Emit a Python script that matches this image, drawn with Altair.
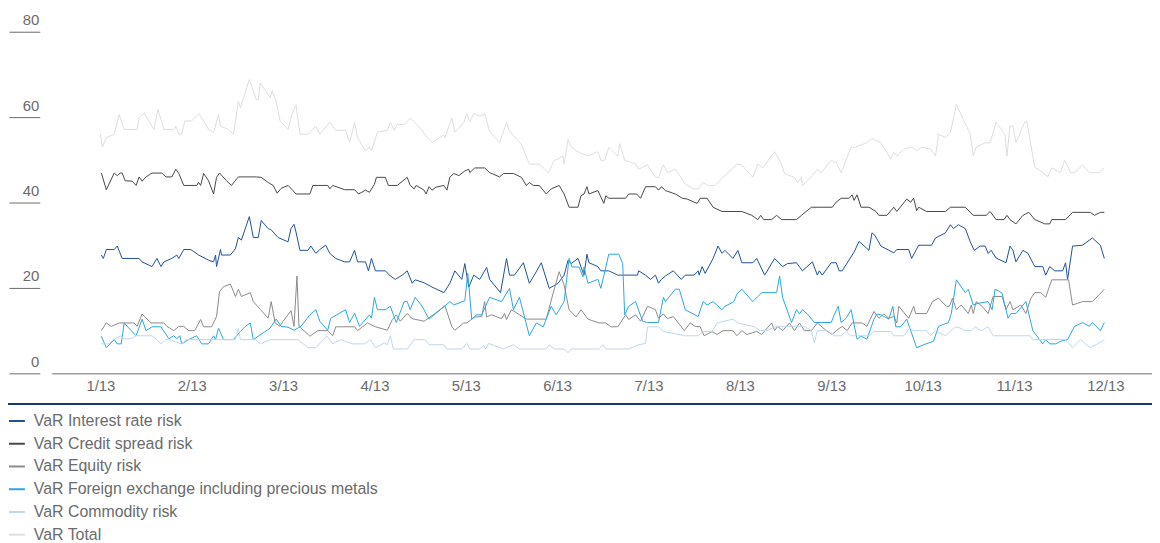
import altair as alt
import pandas as pd

# x = trading day of 2013 (0 = first day of January, 253 = end of December); y = VaR in EUR m
series_names = [
    "VaR Interest rate risk",
    "VaR Credit spread risk",
    "VaR Equity risk",
    "VaR Foreign exchange including precious metals",
    "VaR Commodity risk",
    "VaR Total",
]
series_colors = ["#1f5199", "#484848", "#8a8a8a", "#2ba6de", "#bdd7ee", "#dedede"]
month_labels = ["1/13", "2/13", "3/13", "4/13", "5/13", "6/13", "7/13", "8/13", "9/13", "10/13", "11/13", "12/13"]
y_ticks = [0, 20, 40, 60, 80]

total = [(0,56),(0.5,53),(1.5,55.2),(3.5,56),(4.75,60.6),(6,57.1),(9.25,57.1),(9.75,59.8),(11,61),(13.5,57.1),(14.5,61.8),(16,57.1),(18.5,57.1),(19,57.9),(19.75,56),(20.5,56),(21.25,59.1),(23,59.1),(24.75,60.8),(26,59.1),(27.25,57.1),(28.5,56.4),(29.75,60.6),(30.25,57.9),(32.25,57.1),(33.5,56),(34.75,63.7),(35.25,62.2),(37.5,68.8),(39.25,64.1),(39.75,64.1),(40.25,68),(41.75,66),(42.75,64.5),(43.25,66.2),(44.25,63.7),(45.25,59.1),(47.25,57.1),(48.25,60.6),(49.25,62.9),(50.25,56),(52.25,56),(53,56.7),(54.25,57.9),(55.25,56),(57.75,58.8),(59.25,56.9),(61.75,56.9),(62.75,54),(64,58.8),(64.75,55.2),(66.75,52.1),(67.75,53),(68.25,52.1),(69.75,56.5),(72.25,56.9),(73,58.8),(74,56.9),(74.75,58.3),(76.75,58.3),(78,59.8),(79,58.9),(81,56.9),(82.25,55.2),(83.5,54),(86.5,55.8),(86.75,55.2),(88.5,59.8),(89.25,56.5),(91.5,58.7),(92.25,60.8),(93,58.9),(94,60.8),(95.5,60.2),(96.75,60.8),(98,56.7),(100.5,54),(102.25,58.7),(103,56.7),(106,53.6),(108,49),(110.5,49),(112.75,47),(114.25,49.8),(116.5,50.9),(116.75,49),(117.75,54.8),(118.5,53),(120.5,51.7),(122.75,50.9),(125.25,51.9),(126,49.9),(127,49.9),(128,52.9),(130.25,50.9),(130.75,53.8),(132,49.9),(134.75,49),(135.5,47.8),(137.75,48.8),(139.75,45.9),(140.5,45.9),(141.75,48.8),(142.75,47),(144.75,47.8),(147.25,44.3),(149.25,43.2),(150.5,43.2),(151.75,44.7),(153,44),(154.75,44),(156.75,45.9),(160.25,49),(161.5,48.8),(164.25,45.9),(165.5,49),(166.75,48.1),(169.75,51.9),(171.5,49),(172.25,46.7),(174.75,45.9),(175.5,44.7),(176.5,45.9),(176.75,44),(179.25,46.3),(180.5,47.8),(181.5,47),(184,49.9),(185.25,49.4),(186.5,47),(189,52.9),(189.75,52.9),(193,54),(194.25,55),(196.5,54),(199,50.2),(199.75,51.7),(200.5,50.9),(202.25,52.5),(204.25,53),(205.5,52.1),(206.75,53),(209,52.5),(210.25,50.9),(211,56),(212.75,55.2),(214,56.4),(215.5,62.9),(219,56),(219.75,50.9),(220.5,53),(222.75,54),(224,54),(225.5,58.8),(227.75,56),(228.25,50.9),(229,57.9),(229.75,57.9),(230.5,54),(232.75,58.9),(233.25,58.9),(235.25,48.2),(236.75,47.4),(238.5,46),(239.5,48.1),(241.75,47),(242.75,49.9),(244.25,47),(245.25,47),(247.25,48.8),(249,47),(251.5,47),(252.75,48.1)]

credit = [(0.25,46.9),(1.5,43),(3.5,46.9),(4.25,46.3),(5,46.9),(5.5,46.9),(6.25,45.1),(8,45),(9,44),(9.75,46),(10.5,45),(11.5,46),(13,46.9),(15.5,46.9),(16.5,46),(18,46),(19,47.8),(19.75,46.8),(21,44),(24.25,44),(24.75,44.7),(25.25,44),(26,46.8),(27.25,45.1),(28.5,42),(29.25,45.9),(30,46.9),(31.75,45.1),(33,44),(34.75,46),(39.25,46),(40.5,45.9),(42.25,44.7),(43.5,44),(44.5,42.2),(45.5,43.3),(47.25,44),(48.5,42.8),(49.25,42),(52.75,42),(53.5,44),(57.25,44),(57.75,43.2),(58.5,44),(61.5,43),(64,43),(65,42),(66.75,42.9),(67.75,42.4),(69,44.3),(69.5,45.9),(71.75,45.9),(72.5,44),(74.75,44),(77.25,45.9),(78,44),(79,43.2),(79.5,44),(81.5,42.9),(82,42),(82.75,43.7),(83.5,42.9),(84.5,43.6),(86.5,44),(87.25,42.9),(88,46),(89,46.8),(90.25,46.3),(91.75,47.4),(92.75,47.8),(93,47),(94.25,48.1),(96.75,48.1),(98,47),(100.5,46),(101.5,46.8),(104,46.8),(106,45.9),(107.25,44),(108,44.7),(109,44),(110.5,44),(112.25,42),(113.5,43.2),(115.5,44),(116.75,42),(118,38.9),(120.25,38.9),(121,41.6),(121.75,42),(122.5,43.7),(123,42),(125.25,42.8),(126.75,39.8),(127.25,41.6),(128,41),(132.25,41),(133,42),(135,42),(136,41),(137.25,43.7),(139.75,43.7),(140.5,42.9),(141.25,43.7),(142.25,42.8),(144.75,42),(146.5,41),(147.75,40.8),(150.25,39.8),(151,41),(152.75,41),(154.25,38.9),(156.5,37.9),(161.5,37.9),(164,37),(165.5,36),(166.25,37),(167,36),(169,36),(170.25,37),(171.5,36),(175.25,36),(176.5,37),(179,38.9),(184.25,38.9),(185.25,40.1),(186.5,41),(188.5,41),(189.25,41.8),(189.75,40.5),(190.5,41.8),(191.5,38.9),(193.5,38.9),(195.25,37.9),(196,37),(198,37),(199.75,38.9),(200.5,37.9),(203,40.8),(204,40.1),(204.75,41),(205.5,38.1),(206,38.9),(208,37.9),(212.75,37.9),(214,38.9),(217.75,38.9),(219.75,37),(223,37),(224,37.9),(225.5,36),(227.5,36),(228.25,37),(229,36),(230.5,35),(232.25,37),(233.75,37.7),(235.25,36),(237.75,35),(239,35),(239.5,36),(243,36),(244.75,37.7),(249.25,37.7),(250.25,37),(251.75,37.7),(252.75,37.7)]

interest = [(0.25,27.7),(0.75,26.9),(1.5,29),(3.5,29),(4.25,29.8),(5.5,26.9),(9.75,26.9),(10.5,26.1),(13,25),(14.25,26.9),(15.25,25),(16,26.1),(18,26.9),(19.25,27.7),(19.75,26.9),(21,29),(22.75,29),(24.75,27.7),(27.25,26.5),(28.5,26.1),(29,27.7),(29.25,25),(30.25,29),(30.5,27.7),(32.75,27.7),(34,29.2),(34.75,31.8),(35.5,31.2),(37.5,36.7),(38.5,31.8),(39.75,31.8),(40.5,35.8),(42.25,33.9),(43,33.6),(44.75,31.8),(47.25,30.8),(48,33.9),(48.75,34.9),(49.25,33.1),(50.25,28.8),(52.25,28.8),(53,29.8),(54.25,28.1),(55.25,29),(56.75,30),(57.75,28.1),(59.25,26.9),(61.5,26.1),(62.75,26.1),(64,28.8),(64.75,26.1),(66.75,26.1),(67.5,24),(68.25,26.9),(69.25,24),(71.75,24),(73,22.8),(74.25,22),(76,23),(77.25,24),(78.5,21.1),(79.25,21.9),(81.5,21.2),(83.5,20.2),(86.5,18.9),(88,21.1),(89.25,24),(91,22),(91.75,25.7),(92.75,20.2),(94,23),(95.5,22),(97.25,24.8),(98,22),(100.75,18.9),(102.25,26.9),(103,23),(104.25,23),(106.5,25.9),(108,21.1),(109.25,23),(111,25.9),(113,19.9),(115.25,21.1),(116.75,23),(117.75,26.5),(118.5,25.7),(120.25,26.9),(121.75,23),(122.5,27.9),(123,25.9),(125.25,25),(126,24),(128,24),(130.25,23),(135.25,23),(135.5,24),(137.25,23),(138.5,22),(139.75,23),(140.5,21.1),(141.25,22),(142.25,22.8),(144.25,24),(146.25,22),(147.25,23),(149.5,23),(150.5,24),(150.75,23),(151.5,25),(152.25,23.4),(154.25,26.9),(155.5,29.8),(156.5,28.1),(157.25,28.8),(159.25,26.9),(160.5,28.8),(161.5,25.9),(164.25,25.9),(165.25,26.9),(167.25,23),(169.75,26.9),(171.75,25),(173,25.7),(175.25,25.9),(176.75,24),(179.25,26.1),(180.5,23),(181,24),(181.75,23),(184,25.9),(185.25,25.9),(186,24),(186.75,24),(189.75,28.4),(191,30.9),(193.5,28.8),(194.25,32.9),(195,32.3),(196.5,29.8),(199.75,28.2),(200.5,29),(203.5,29),(204.25,26.9),(206,30),(209.25,30),(210.25,31.7),(212.75,32.9),(214,34.8),(214.75,33.9),(216,34.8),(217.75,33.9),(219,30.8),(220,28.8),(221.5,29.8),(222.75,29.8),(223.5,28.1),(224.25,28.8),(225.5,27),(228,25.9),(229,29.8),(229.75,28.8),(230.5,26.1),(232.25,28.8),(233.5,28.1),(235.25,25),(237.25,25),(238,23),(239,25),(240.25,24),(242.25,24),(243,25.9),(243.5,22),(244.75,29.8),(247.25,30),(249.75,31.7),(251.75,30),(252.75,26.9)]

equity = [(0.25,10),(1.5,11.8),(2.75,11),(4.75,11.8),(8.5,11.8),(9.25,11),(10.5,13.9),(12.75,11.8),(14,11.8),(16,11.8),(16.75,11),(18.5,10),(19.75,11),(21,11),(22.25,10),(23.75,10),(25.25,12.6),(26,10.9),(28,10.9),(29.25,13.3),(30,19.1),(31,20.3),(32.75,20.9),(34,18),(34.75,19.7),(35.5,18),(37.75,18.9),(38.5,16.8),(40.25,15),(42.25,12.9),(43,16.8),(44,11.8),(45.25,11),(46,12.2),(47.25,13.7),(48,14.7),(48.75,11),(49.5,22.8),(50,11),(51.5,9.8),(52.75,8.7),(54.75,10),(57.25,10),(58.5,8.8),(59.25,10.9),(64,10.9),(64.75,10),(67.25,11.8),(69.25,10.9),(72.25,10.1),(73.5,12.6),(74.5,13.7),(75.5,12.2),(77.25,14),(78.5,12.8),(81.5,12.2),(84.25,14),(86.75,15.8),(88.5,10.9),(89.25,10.1),(91.5,11.8),(92.25,11.8),(94.25,13.2),(96,13.3),(96.75,16.8),(97.25,13.2),(98.5,13.7),(101,12.8),(101.75,14),(102.25,12.6),(103.5,14.9),(107.25,12.7),(112.25,12.7),(114,18.8),(115.5,23.8),(116.75,20.7),(118,14.9),(119.75,13.2),(121,14.9),(122.75,12.7),(125.5,11.8),(127.25,11.8),(128.5,10.9),(130.25,10.9),(132.25,13.7),(133,12.6),(134.75,13.7),(136,12.2),(137.75,15.7),(139.75,14.9),(140.5,12.9),(141.75,13.9),(142.75,12.8),(144.25,13.3),(145.5,11.8),(147,10),(148.5,11.8),(149.75,11),(151,10.9),(152,8.8),(154,9.8),(155.25,9.1),(156.75,10),(159.25,10),(160.25,8.8),(161.5,10),(162.75,9.1),(165.25,9.8),(166.5,9.1),(169,11.8),(169.75,10),(170.5,11),(171.75,10),(173.5,11.8),(174.75,10),(176,11.8),(177.25,10),(179,10),(180.5,11.8),(182.75,10),(184.25,9.1),(185.25,10),(186.75,11),(188,10),(189.25,11.8),(191.75,11.8),(193,11),(194.75,14.5),(196,12.9),(197.25,13.9),(198.5,12.9),(199.75,13.3),(200.5,11.8),(201,15.7),(203.5,12.9),(204.75,15.7),(205.25,14),(208,14),(209.5,16.8),(211,17.6),(213,15.7),(213.75,15.7),(214.5,17.6),(215.5,14.9),(216.75,16),(218.5,14),(219.25,16),(219.75,14),(220.5,16.8),(222,15.7),(223.5,14),(224.75,18),(227,18),(228,14.9),(229,16.8),(229.75,14.9),(231.75,16),(233,14),(234.25,17.6),(235.25,18.9),(236.75,18.9),(238,17.8),(239.5,21.9),(243.75,21.9),(244.75,16),(247.25,16.8),(249.75,16.8),(252.75,19.7)]

fx = [(0.25,8.7),(1.5,6),(3.5,7.9),(4.25,6.9),(5.25,6.9),(6,11.8),(7.75,10),(9,8.8),(10.5,12.7),(11.5,10),(13,10.9),(15.25,10.9),(17.25,8.1),(18.5,8.8),(19.25,8.1),(20,8.8),(20.5,6.9),(22.25,7.9),(24.25,8.8),(25.5,6.9),(27.25,6.9),(28.5,8.8),(29,7.9),(29.75,10.6),(31,7.9),(33.5,7.9),(35.25,9.8),(36.5,11),(37.75,11.8),(38.5,7.9),(42.75,10.6),(44.25,12.7),(45.5,11),(47.25,10.8),(48.75,10.1),(50.5,11),(52.75,13.7),(54.25,14.9),(55.25,12.2),(57.25,10.1),(58,12.9),(61.75,14.9),(62.75,11.9),(64,14.1),(65.25,11),(67.75,13.7),(68.25,12.9),(69,17.8),(69.75,14.9),(71.75,14.9),(73,15.7),(74.5,11.9),(76.5,16.8),(77.25,16.8),(78,14.9),(79.25,17.8),(81,15.7),(82.75,12.7),(84,13.7),(86.75,15.8),(88,16.8),(89,16),(91.75,17),(92.5,23.4),(93.5,12.7),(94.75,13.7),(96,13.7),(98,17.8),(101,16.8),(103,19.9),(104,14.9),(105.5,17.8),(108,8.8),(109.75,11.8),(111.5,10.9),(113.5,15.7),(114.75,13.7),(116.75,16.8),(118,26.9),(118.75,24.9),(120.5,24.9),(121.5,22.6),(121.75,24.9),(122.75,21.1),(125.25,22),(126,19.9),(128,27.9),(130.5,27.9),(131.5,25.7),(132,13.7),(133,15.7),(134.75,16.8),(136.5,12.2),(137.75,11.9),(140.5,11.9),(141.75,17.8),(142.25,16.8),(144.75,19.7),(145.75,19.7),(147.25,14.9),(150.5,13.3),(151.75,16.8),(152.75,16),(154.25,16.8),(156.5,14.9),(157.25,15.7),(159.5,16.8),(160.25,18.6),(161.5,19.7),(164.25,16.8),(166.5,18.9),(170.25,18.9),(171,22.8),(171.75,17.8),(174,11.9),(175.25,14.9),(176,13.9),(176.75,14.9),(178,13.9),(179.75,11.9),(184,11.9),(184.75,13.7),(185.75,15.7),(186.5,11.9),(187.75,12.9),(189,14.9),(190.5,8),(191.5,8.7),(193,8),(194.75,12.7),(195.5,13.9),(196.5,13.7),(198.5,12.7),(199.5,15.7),(200.25,10.9),(201.5,10.9),(203,12.7),(205.5,6),(207.25,6.7),(209.75,7.5),(211,11),(213.5,11.9),(214.25,14.1),(215.5,21.9),(217.75,18.9),(218.5,19.7),(219.75,16),(221,16.4),(223.5,16.8),(224.5,14.9),(225.25,19.7),(227,18.8),(228.5,12.9),(229.25,14),(230.5,14),(233,16.8),(234,12.9),(234.75,10),(237.25,6.9),(238,7.9),(239,6.9),(240.5,6.9),(241.75,7.5),(243.5,7.9),(245.25,11),(247.25,11.9),(249,11),(249.75,11.9),(251.75,10),(252.75,11.9)]

commodity = [(0.25,6.9),(2.25,6.9),(3.25,7.9),(5.25,8.8),(6,8.1),(7.75,8.1),(9,8.8),(13,8.8),(14.25,7.9),(15.25,6.9),(16.5,7.9),(17.25,7.9),(20.5,6.9),(21.75,7.9),(34,7.9),(34.75,10.6),(35.25,7.9),(39,7.9),(40.25,6.9),(42.75,7.9),(49.75,7.9),(52.25,6),(54.25,6),(57,8.8),(58.5,6.9),(60.5,7.9),(63.5,6.9),(66.5,6.9),(68,7.9),(69.25,6),(71.5,7.1),(72.25,6.7),(73,8.8),(73.75,5.7),(77.25,5.7),(79,7.9),(81.75,7.9),(82.75,6.7),(86.5,6.7),(87.25,5.7),(91,5.7),(92.25,7),(93,5.7),(95.5,5.7),(96.5,6.5),(97,5.7),(97.75,7),(101.5,5.7),(104,6.7),(105.5,5.7),(112.25,5.7),(113,6.7),(114.25,5.7),(116.75,5.7),(117.75,4.8),(118.5,5.7),(125.5,5.7),(126.5,6.7),(127.25,5.7),(133,5.7),(135.5,6.7),(137.25,7),(137.75,10.9),(140.5,10.9),(141.75,9.8),(147.25,8.8),(150.5,8.8),(151.75,9.8),(154,9.8),(155.25,11.8),(159.25,12.7),(160.5,11.8),(164.75,10.9),(166,10),(167.75,10),(170.25,11),(177.25,11),(179,10),(179.75,7.1),(180.5,10),(183,10),(184.75,8.8),(186.5,8.8),(187.75,9.8),(189,8.8),(193.5,8.8),(194.75,9.8),(199,9.8),(199.75,8.8),(202.25,8.8),(203.75,10.6),(204.75,10),(208,10),(209,8.8),(210.25,10),(212.75,8.8),(215.25,10.9),(216.5,10.6),(217.75,10),(219.25,10),(220.25,10.9),(221.75,10),(223.5,10.9),(224.75,8.8),(234,8.8),(234.75,7.9),(242.75,7.9),(244,6.9),(244.75,6),(246.75,7.9),(248,6.9),(249.25,6),(251,6.9),(252.75,7.9)]

series_points = [interest, credit, equity, fx, commodity, total]
frames = []
for order, (name, pts) in enumerate(zip(series_names, series_points)):
    frames.append(pd.DataFrame({
        "day": [p[0] for p in pts],
        "value": [p[1] for p in pts],
        "series": name,
        "order": order,
    }))
df = pd.concat(frames, ignore_index=True)

PLOT_W = 1108
PLOT_H = 344
FONT = "Liberation Sans"

lines = alt.Chart(df).mark_line(strokeWidth=1, interpolate="linear").encode(
    x=alt.X("day:Q",
            scale=alt.Scale(domain=[-12.25, 264.75], nice=False, zero=False),
            axis=alt.Axis(values=[i * 23 for i in range(len(month_labels))],
                          labelExpr="(round(datum.value / 23) + 1) + '/13'",
                          grid=False, ticks=False, domainColor="#6b6b6b", domainWidth=1,
                          labelFontSize=15, labelColor="#6b6b6b", labelFont=FONT,
                          labelPadding=5, title=None)),
    y=alt.Y("value:Q",
            scale=alt.Scale(domain=[0, 80], nice=False),
            axis=alt.Axis(values=y_ticks, tickSize=31, offset=12, domain=False, grid=False,
                          tickColor="#6b6b6b", tickWidth=1,
                          labelAlign="right", labelBaseline="alphabetic",
                          labelPadding=-30, labelOffset=-7,
                          labelFontSize=15, labelColor="#6b6b6b", labelFont=FONT,
                          title=None)),
    color=alt.Color("series:N",
                    scale=alt.Scale(domain=series_names, range=series_colors),
                    legend=alt.Legend(orient="none", legendX=-44, legendY=383,
                                      direction="vertical", title=None,
                                      symbolType="stroke", symbolSize=256,
                                      symbolStrokeWidth=2, labelOffset=8,
                                      labelFontSize=16, labelColor="#6b6b6b",
                                      labelFont=FONT, rowPadding=5.9, padding=0,
                                      labelLimit=600)),
    order=alt.Order("order:Q"),
    detail="series:N",
)

separator = alt.Chart(df).mark_rule(color="#1b3a6b", strokeWidth=1.5).encode(
    x=alt.value(-44), x2=alt.value(PLOT_W), y=alt.value(PLOT_H + 31)
)

chart = alt.layer(lines, separator).properties(
    width=PLOT_W,
    height=PLOT_H,
    autosize=alt.AutoSizeParams(type="none"),
    padding={"left": 44, "top": 22, "right": 0, "bottom": 174},
).configure(font=FONT).configure_view(stroke=None, strokeWidth=0)

chart.save("out.html", embed_options={"renderer": "svg", "actions": False})
